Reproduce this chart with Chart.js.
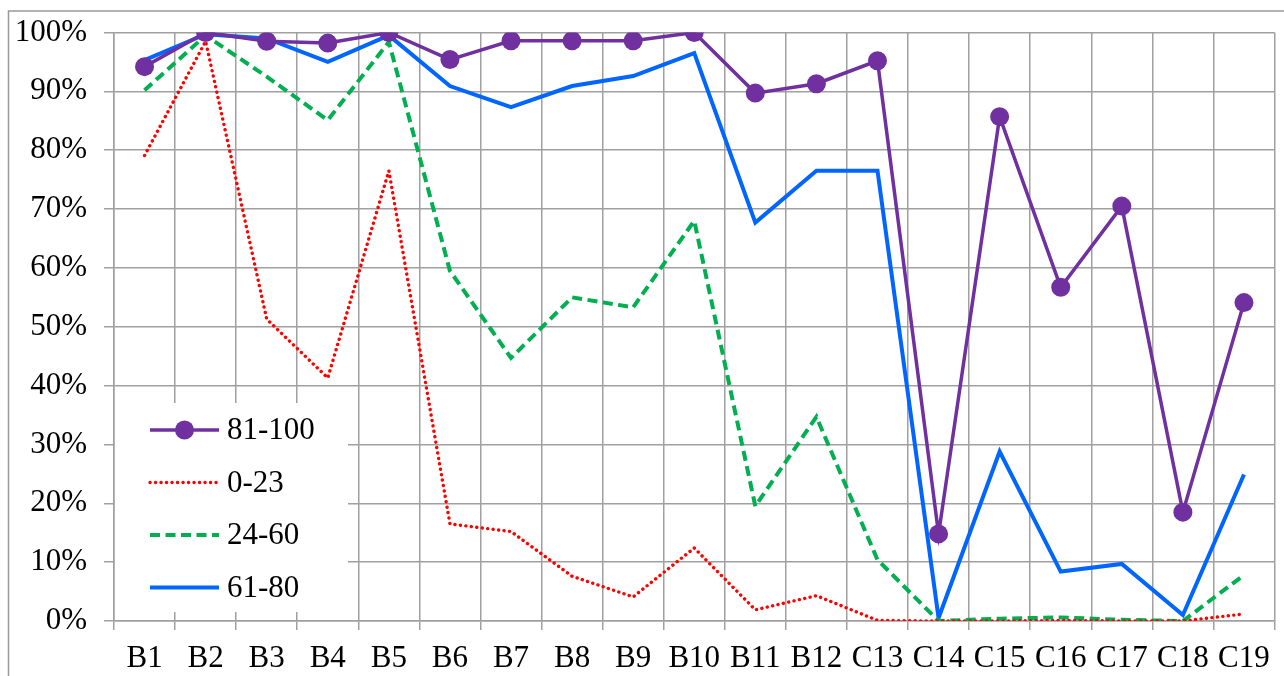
<!DOCTYPE html>
<html>
<head>
<meta charset="utf-8">
<script src="https://cdn.jsdelivr.net/npm/chart.js@4/dist/chart.umd.min.js"></script>
<style>
html,body{margin:0;padding:0;background:#fff;}
#wrap{position:relative;width:1284px;height:676px;}
</style>
</head>
<body>
<div id="wrap"><canvas id="c" width="1284" height="676"></canvas></div>
<script>
const categories = ['B1','B2','B3','B4','B5','B6','B7','B8','B9','B10','B11','B12','C13','C14','C15','C16','C17','C18','C19'];
const seriesNames = ['81-100','0-23','24-60','61-80'];
const s81_100 = [94.2,100,98.5,98.2,100,95.4,98.6,98.6,98.6,100,89.7,91.3,95.2,14.8,85.7,56.7,70.5,18.5,54.1];
const s0_23   = [79.1,98.5,51.3,41.3,76.5,16.5,15.2,7.6,4.1,12.4,1.9,4.3,0.1,0,0,0.1,0,0,1.2];
const s24_60  = [90.2,99.5,92.5,85.1,98.4,59.5,44.7,55.0,53.3,68.0,19.5,34.7,10.4,0,0.4,0.6,0.2,0,7.8];
const s61_80  = [95.3,99.7,99.0,95.0,99.5,90.9,87.3,90.9,92.6,96.5,67.7,76.5,76.5,0.5,28.8,8.4,9.7,1.0,24.9];
const yTicks = [0,10,20,30,40,50,60,70,80,90,100];

const FONT = 'Liberation Serif';
const FSIZE = 31;
const GRID = '#a0a0a0';

const datasets = [
  {label:seriesNames[0], data:s81_100, borderColor:'#7030A0', backgroundColor:'#7030A0', borderWidth:3.5,
   pointRadius:9.5, pointHoverRadius:9.5, pointBackgroundColor:'#7030A0', pointBorderWidth:0},
  {label:seriesNames[1], data:s0_23, borderColor:'#FF0000', backgroundColor:'#FF0000', borderWidth:3.4,
   borderDash:[0.1,5.4], borderCapStyle:'round', pointRadius:0},
  {label:seriesNames[2], data:s24_60, borderColor:'#00B050', backgroundColor:'#00B050', borderWidth:4,
   borderDash:[10,5.5], pointRadius:0},
  {label:seriesNames[3], data:s61_80, borderColor:'#0066FF', backgroundColor:'#0066FF', borderWidth:4,
   pointRadius:0}
];

const framePlugin = {
  id:'frame',
  beforeDraw(chart){
    const ctx = chart.ctx;
    ctx.save();
    ctx.fillStyle='#fff';
    ctx.fillRect(0,0,chart.width,chart.height);
    ctx.strokeStyle='#999';
    ctx.lineWidth=1.5;
    ctx.strokeRect(8.5,11,2000,2000);
    ctx.restore();
  }
};

const legendPlugin = {
  id:'inLegend',
  beforeDatasetsDraw(chart){
    const ctx = chart.ctx;
    const ca = chart.chartArea;
    ctx.save();
    const bx = ca.left+1, by = ca.bottom-218, bw = 233, bh = 209;
    ctx.fillStyle='#fff';
    ctx.fillRect(bx,by,bw,bh);
    chart.data.datasets.forEach((ds,i)=>{
      const y = by + 27 + i*52.5;
      const x0 = ca.left+36, x1 = ca.left+105;
      ctx.save();
      ctx.strokeStyle = ds.borderColor;
      ctx.lineWidth = ds.borderWidth;
      ctx.lineCap = ds.borderCapStyle || 'butt';
      ctx.setLineDash(ds.borderDash || []);
      ctx.beginPath();
      ctx.moveTo(x0,y); ctx.lineTo(x1,y); ctx.stroke();
      ctx.restore();
      if (ds.pointRadius>0){
        ctx.fillStyle = ds.pointBackgroundColor;
        ctx.beginPath();
        ctx.arc((x0+x1)/2, y, ds.pointRadius, 0, Math.PI*2);
        ctx.fill();
      }
      ctx.fillStyle='#000';
      ctx.font = FSIZE+'px "'+FONT+'"';
      ctx.textBaseline='middle';
      ctx.textAlign='left';
      ctx.fillText(ds.label, x1+8, y+1);
    });
    ctx.restore();
  }
};

new Chart(document.getElementById('c'), {
  type:'line',
  data:{labels:categories, datasets:datasets},
  options:{
    responsive:false,
    animation:false,
    events:[],
    layout:{padding:{top:16,right:0,bottom:0,left:0}},
    plugins:{legend:{display:false}, tooltip:{enabled:false}},
    elements:{line:{tension:0}},
    scales:{
      x:{
        type:'category',
        offset:true,
        grid:{offset:true, color:GRID, lineWidth:1.5, tickLength:9, drawTicks:true},
        border:{display:true, color:GRID, width:1.5},
        ticks:{color:'#000', font:{family:FONT, size:FSIZE}, padding:10, maxRotation:0, autoSkip:false},
        afterFit(s){ s.height = 55; }
      },
      y:{
        min:0, max:100,
        afterBuildTicks(s){ s.ticks = yTicks.map(v=>({value:v})); },
        grid:{color:GRID, lineWidth:1.5, tickLength:10, drawTicks:true},
        border:{display:true, color:GRID, width:1.5},
        ticks:{color:'#000', font:{family:FONT, size:FSIZE, lineHeight:1}, padding:17, callback:v=>v+'%'},
        afterFit(s){ s.width = 114; }
      }
    }
  },
  plugins:[framePlugin, legendPlugin]
});
</script>
</body>
</html>
